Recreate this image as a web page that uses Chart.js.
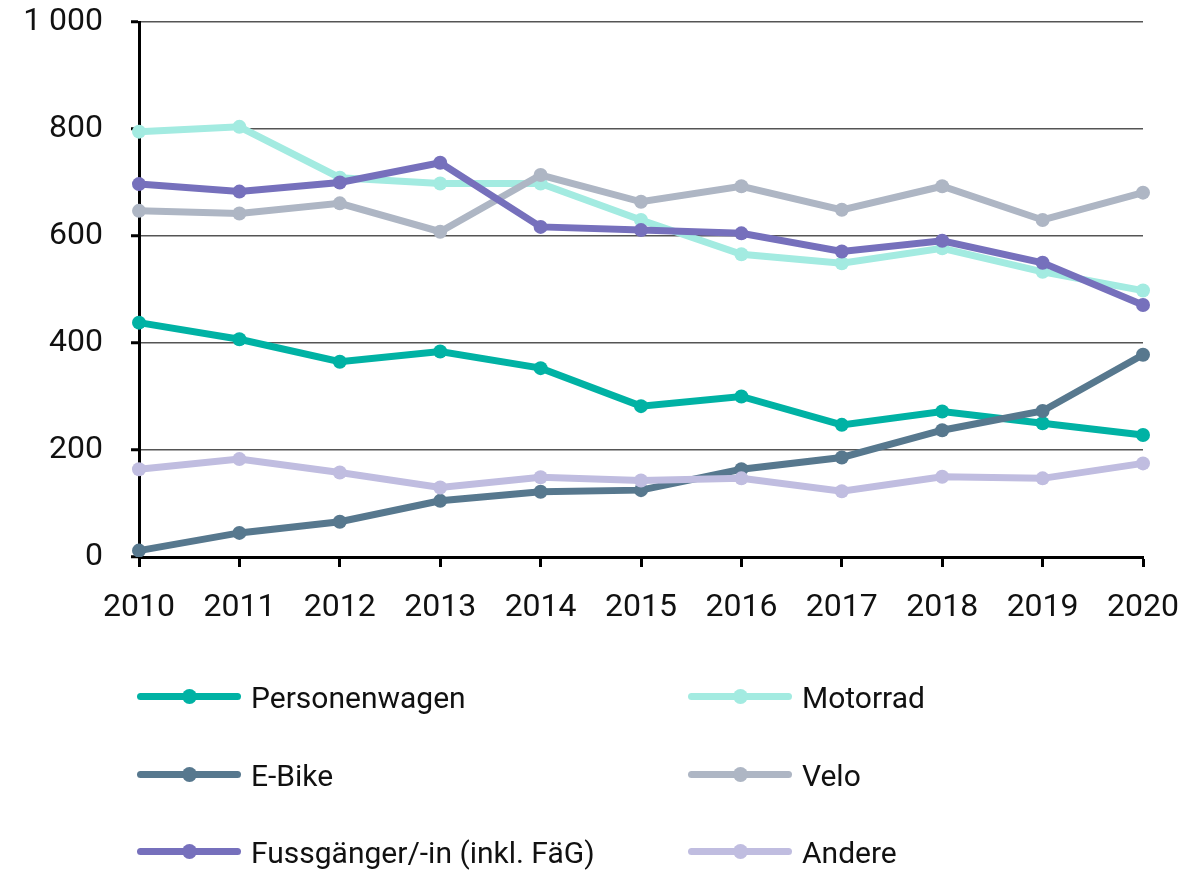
<!DOCTYPE html>
<html>
<head>
<meta charset="utf-8">
<script src="https://cdn.jsdelivr.net/npm/chart.js@4"></script>
<style>
  html, body { margin: 0; padding: 0; background: #fff; }
  #wrap { position: relative; width: 1188px; height: 871px; }
  #legend { position: absolute; left: 0; top: 0; width: 1188px; height: 871px; pointer-events: none;
            font-family: Roboto, "Liberation Sans", sans-serif; font-size: 30px; color: #111; }
  .item { position: absolute; display: flex; align-items: center; height: 40px; }
  .sym { position: relative; width: 104px; height: 40px; margin-right: 10px; }
  .sym .ln { position: absolute; left: 0; right: 0; top: 16px; height: 7px; border-radius: 3.5px; }
  .sym .dt { position: absolute; left: 45px; top: 12px; width: 15px; height: 15px; border-radius: 7.5px; }
</style>
</head>
<body>
<div id="wrap">
  <canvas id="chart" width="1188" height="871"></canvas>
  <div id="legend"></div>
</div>
<script>
// Jahre
const years = ['2010', '2011', '2012', '2013', '2014', '2015', '2016', '2017', '2018', '2019', '2020'];

// Werte pro Verkehrsmittel
const personenwagen = [438, 407, 365, 384, 353, 282, 300, 247, 272, 250, 228];
const motorrad = [795, 804, 709, 698, 698, 630, 566, 549, 577, 533, 498];
const eBike = [12, 45, 66, 105, 122, 125, 164, 186, 237, 273, 378];
const velo = [647, 642, 661, 608, 714, 664, 693, 649, 693, 630, 681];
const fussgaenger = [697, 683, 700, 737, 617, 611, 605, 571, 591, 550, 471];
const andere = [164, 183, 158, 130, 149, 143, 147, 123, 150, 147, 175];

const seriesNames = ['Personenwagen', 'Motorrad', 'E-Bike', 'Velo', 'Fussgänger/-in (inkl. FäG)', 'Andere'];
const seriesData = [personenwagen, motorrad, eBike, velo, fussgaenger, andere];
const seriesColors = ['#00b2a4', '#a3ebe1', '#57788e', '#aeb6c4', '#7670bc', '#c0bde0'];

const yTicks = [0, 200, 400, 600, 800, 1000];

// Excel zeichnet spätere Reihen oben, daher order umdrehen
const datasets = seriesNames.map(function(name, i) {
    return {
        label: name,
        data: seriesData[i],
        borderColor: seriesColors[i],
        backgroundColor: seriesColors[i],
        borderWidth: 7,
        pointRadius: 7,
        pointBorderWidth: 0,
        pointBackgroundColor: seriesColors[i],
        tension: 0,
        order: seriesNames.length - 1 - i
    };
});

const fontFamily = 'Roboto, "Liberation Sans", sans-serif';

const ctx = document.getElementById('chart').getContext('2d');
const chart = new Chart(ctx, {
    type: 'line',
    data: { labels: years, datasets: datasets },
    options: {
        responsive: false,
        animation: false,
        layout: { padding: { left: 0, right: 45, top: 22, bottom: 234 } },
        plugins: { legend: { display: false }, tooltip: { enabled: false } },
        scales: {
            x: {
                offset: false,
                grid: { drawOnChartArea: false, drawTicks: true, tickLength: 10, tickColor: '#000', tickWidth: 3 },
                border: { display: true, color: '#000', width: 3 },
                ticks: { color: '#111', padding: 25, maxRotation: 0, font: { family: fontFamily, size: 32, lineHeight: 1 } },
                afterFit: function(scale) {
                    scale.height = 80;
                    scale.paddingLeft = 0;
                    scale.paddingRight = 0;
                }
            },
            y: {
                min: 0,
                max: 1000,
                afterBuildTicks: function(scale) { scale.ticks = yTicks.map(function(v) { return { value: v }; }); },
                grid: { color: '#555', lineWidth: 1.5, tickLength: 8, tickColor: '#000', tickWidth: 3 },
                border: { display: true, color: '#000', width: 3 },
                ticks: {
                    color: '#111', padding: 28,
                    font: { family: fontFamily, size: 32, lineHeight: 1 },
                    callback: function(v) { return v >= 1000 ? String(v).replace(/\B(?=(\d{3})+$)/g, ' ') : String(v); }
                },
                afterFit: function(scale) {
                    scale.width = 139;
                    scale.paddingTop = 0;
                    scale.paddingBottom = 0;
                }
            }
        }
    }
});

// Legende in zwei Spalten
const legend = document.getElementById('legend');
const colX = [137, 688];
const rowY = [677, 755, 832];
seriesNames.forEach(function(name, i) {
    const item = document.createElement('div');
    item.className = 'item';
    item.style.left = colX[i % 2] + 'px';
    item.style.top = rowY[Math.floor(i / 2)] + 'px';
    item.innerHTML = '<div class="sym"><div class="ln" style="background:' + seriesColors[i] + '"></div>' +
        '<div class="dt" style="background:' + seriesColors[i] + '"></div></div><span>' + name + '</span>';
    legend.appendChild(item);
});
</script>
</body>
</html>
